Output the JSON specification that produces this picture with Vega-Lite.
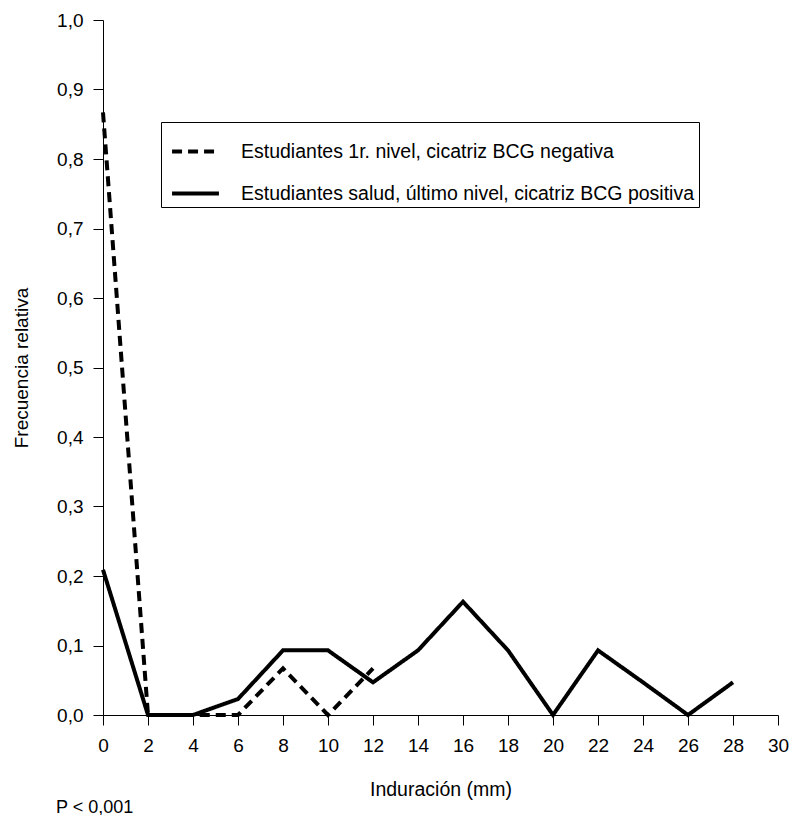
{
  "$schema": "https://vega.github.io/schema/vega-lite/v6.json",
  "autosize": {"type": "none"},
  "padding": {"left": 103, "top": 20, "right": 34, "bottom": 100},
  "width": 675,
  "height": 695,
  "background": "white",
  "config": {
    "font": "Liberation Sans",
    "view": {"stroke": null},
    "axis": {"grid": false, "domainColor": "black", "tickColor": "black", "labelColor": "black", "titleColor": "black", "labelFont": "Liberation Sans", "titleFont": "Liberation Sans", "titleFontWeight": "normal", "domainWidth": 1, "tickWidth": 1}
  },
  "title": {"text": "P < 0,001", "orient": "bottom", "anchor": "start", "frame": "group", "dx": -47, "offset": 0, "fontSize": 18, "fontWeight": "normal", "color": "black", "font": "Liberation Sans"},
  "data": {
    "values": [
      {"x": 0, "y": 0.867, "serie": "Estudiantes 1r. nivel, cicatriz BCG negativa"},
      {"x": 2, "y": 0, "serie": "Estudiantes 1r. nivel, cicatriz BCG negativa"},
      {"x": 4, "y": 0, "serie": "Estudiantes 1r. nivel, cicatriz BCG negativa"},
      {"x": 6, "y": 0, "serie": "Estudiantes 1r. nivel, cicatriz BCG negativa"},
      {"x": 8, "y": 0.067, "serie": "Estudiantes 1r. nivel, cicatriz BCG negativa"},
      {"x": 10, "y": 0, "serie": "Estudiantes 1r. nivel, cicatriz BCG negativa"},
      {"x": 12, "y": 0.067, "serie": "Estudiantes 1r. nivel, cicatriz BCG negativa"},
      {"x": 0, "y": 0.209, "serie": "Estudiantes salud, último nivel, cicatriz BCG positiva"},
      {"x": 2, "y": 0, "serie": "Estudiantes salud, último nivel, cicatriz BCG positiva"},
      {"x": 4, "y": 0, "serie": "Estudiantes salud, último nivel, cicatriz BCG positiva"},
      {"x": 6, "y": 0.023, "serie": "Estudiantes salud, último nivel, cicatriz BCG positiva"},
      {"x": 8, "y": 0.093, "serie": "Estudiantes salud, último nivel, cicatriz BCG positiva"},
      {"x": 10, "y": 0.093, "serie": "Estudiantes salud, último nivel, cicatriz BCG positiva"},
      {"x": 12, "y": 0.047, "serie": "Estudiantes salud, último nivel, cicatriz BCG positiva"},
      {"x": 14, "y": 0.093, "serie": "Estudiantes salud, último nivel, cicatriz BCG positiva"},
      {"x": 16, "y": 0.163, "serie": "Estudiantes salud, último nivel, cicatriz BCG positiva"},
      {"x": 18, "y": 0.093, "serie": "Estudiantes salud, último nivel, cicatriz BCG positiva"},
      {"x": 20, "y": 0, "serie": "Estudiantes salud, último nivel, cicatriz BCG positiva"},
      {"x": 22, "y": 0.093, "serie": "Estudiantes salud, último nivel, cicatriz BCG positiva"},
      {"x": 24, "y": 0.047, "serie": "Estudiantes salud, último nivel, cicatriz BCG positiva"},
      {"x": 26, "y": 0, "serie": "Estudiantes salud, último nivel, cicatriz BCG positiva"},
      {"x": 28, "y": 0.047, "serie": "Estudiantes salud, último nivel, cicatriz BCG positiva"}
    ]
  },
  "mark": {"type": "line", "color": "black", "strokeWidth": 4, "strokeJoin": "miter", "clip": false},
  "encoding": {
    "x": {
      "field": "x", "type": "quantitative",
      "scale": {"domain": [0, 30], "nice": false, "zero": false},
      "axis": {"values": [0, 2, 4, 6, 8, 10, 12, 14, 16, 18, 20, 22, 24, 26, 28, 30], "title": "Induración (mm)", "labelFontSize": 19, "titleFontSize": 19.5, "tickSize": 10, "labelPadding": 11, "titlePadding": 25, "labelFlush": false}
    },
    "y": {
      "field": "y", "type": "quantitative",
      "scale": {"domain": [0, 1], "nice": false},
      "axis": {"values": [0, 0.1, 0.2, 0.3, 0.4, 0.5, 0.6, 0.7, 0.8, 0.9, 1.0], "labelExpr": "replace(format(datum.value, '.1f'), '.', ',')", "title": "Frecuencia relativa", "labelFontSize": 19, "titleFontSize": 19, "tickSize": 10, "labelPadding": 10, "titlePadding": 25, "labelFlush": false}
    },
    "strokeDash": {
      "field": "serie", "type": "nominal",
      "scale": {"domain": ["Estudiantes 1r. nivel, cicatriz BCG negativa", "Estudiantes salud, último nivel, cicatriz BCG positiva"], "range": [[10, 6], [1, 0]]},
      "legend": {"title": null, "orient": "none", "legendX": 58, "legendY": 102, "strokeColor": "black", "padding": 4, "symbolOffset": 5, "symbolType": "stroke", "symbolStrokeWidth": 4, "symbolStrokeColor": "black", "symbolSize": 2200, "labelFontSize": 19.5, "labelColor": "black", "labelFont": "Liberation Sans", "labelOffset": 20, "rowPadding": 7, "labelLimit": 700}
    }
  }
}
